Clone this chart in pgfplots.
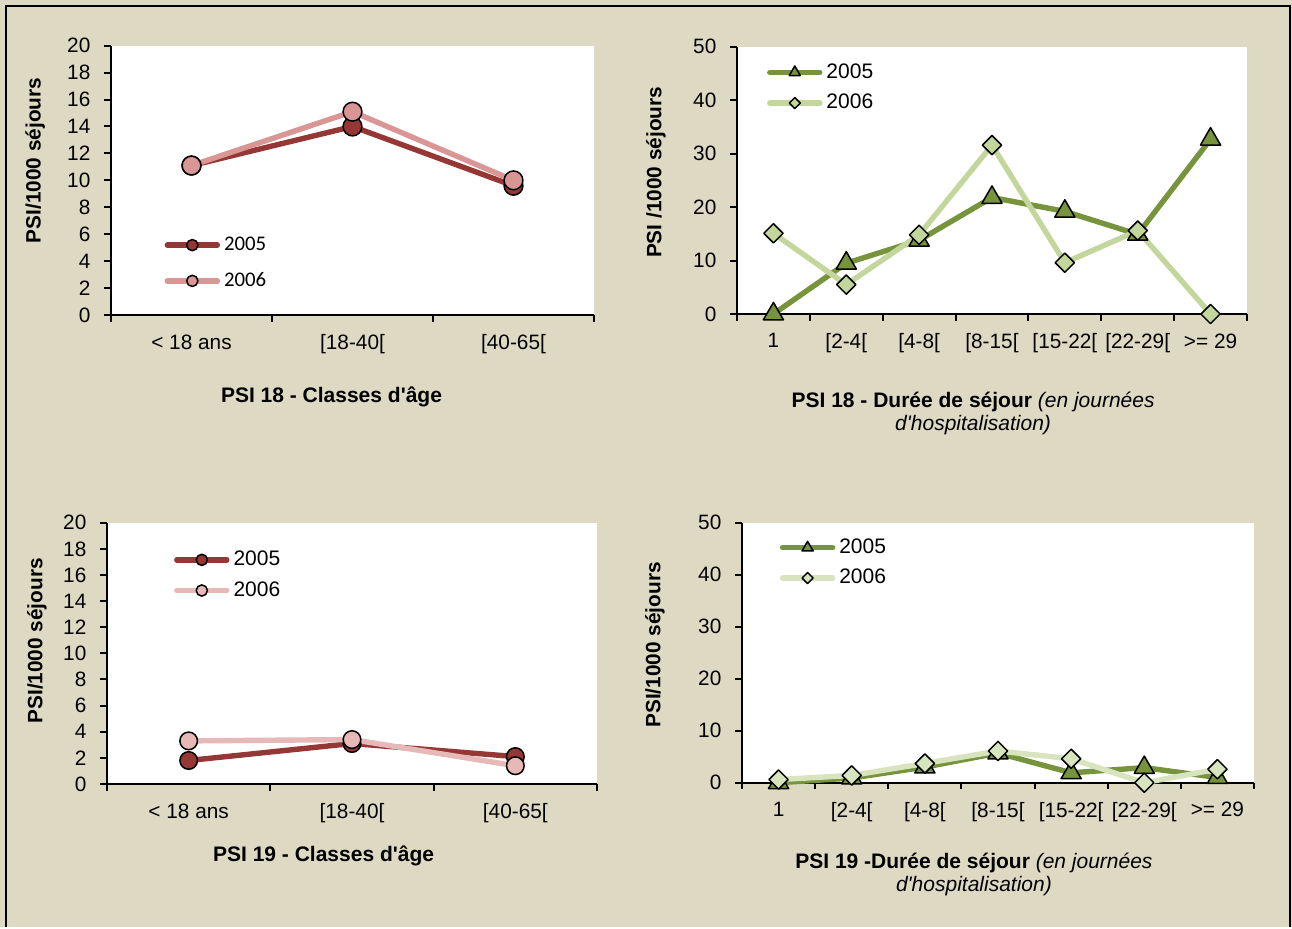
\documentclass[border=0pt]{standalone}
\usepackage{pgfplots}
\pgfplotsset{compat=1.18}
\usepackage{fontspec}
\setmainfont{Liberation Sans}
\newfontfamily\calib{Carlito}
\definecolor{bg}{HTML}{DDD9C3}
\definecolor{dred}{HTML}{953735}
\definecolor{pinkA}{HTML}{D99694}
\definecolor{pinkB}{HTML}{E6B9B8}
\definecolor{dgreen}{HTML}{77933C}
\definecolor{lgreenA}{HTML}{C3D69B}
\definecolor{lgreenB}{HTML}{D7E4BD}
\newcommand{\tfont}{\fontsize{10.4}{11.5}\selectfont}
\tikzset{
  lred/.style={line width=2.7pt, line cap=round, line join=round, mark=*},
  mk/.style={draw=black, line width=0.75pt, fill=#1},
}
\pgfplotsset{
  panel/.style={
    scale only axis, clip=false,
    axis lines*=left,
    axis line style={black, line width=1pt},
    axis background/.style={fill=white},
    tick align=outside,
    major tick length=3.3pt, minor tick length=3.3pt,
    every tick/.style={black, line width=1pt},
    ymin=0,
    /pgf/number format/assume math mode=true,
    tick label style={font=\tfont},
    yticklabel style={xshift=-3.5pt},
    xticklabel style={yshift=-3pt},
    major x tick style={draw=none},
    legend cell align=left,
    legend style={draw=none, fill=none, inner sep=0pt, outer sep=0pt, anchor=north west, row sep=6pt,
      nodes={inner xsep=2pt}},
    legend image code/.code={\draw[mark repeat=2,mark phase=2,##1] plot coordinates {(0pt,0pt) (12.5pt,0pt) (25pt,0pt)};},
    every axis y label/.style={rotate=90, anchor=center, font=\tfont\bfseries},
  },
  age/.style={panel, xmin=-0.5, xmax=2.5, xtick={0,1,2}, minor xtick={-0.5,0.5,1.5,2.5},
    xticklabels={{< 18 ans},{[18-40[},{[40-65[}}, ymax=20, ytick={0,2,...,20}},
  duree/.style={panel, xmin=-0.5, xmax=6.5, xtick={0,...,6}, minor xtick={-0.5,0.5,...,6.5},
    xticklabels={1,{[2-4[},{[4-8[},{[8-15[},{[15-22[},{[22-29[},{>= 29}}, ymax=50, ytick={0,10,...,50}},
}
\newcommand{\q}{\textquotesingle}
\begin{document}
\begin{tikzpicture}
\fill[bg] (0,0) rectangle (646pt,-463.5pt);
\draw[black, line width=1pt] (3pt,-463.5pt) -- (3pt,-3pt) -- (645.2pt,-3pt) -- (645.2pt,-463.5pt);
\useasboundingbox (0,0) rectangle (646pt,-463.5pt);

% ---------- Panel 1 ----------
\begin{axis}[age, at={(55.5pt,-157.5pt)}, anchor=south west, width=241.5pt, height=134.65pt,
  ylabel={PSI/1000 séjours}, ylabel style={at={(axis description cs:-0.157,0.574)}},
  legend style={at={(axis description cs:0.111,0.305)}, font=\calib\fontsize{10.4}{12}\selectfont, row sep=5.5pt}]
\addlegendimage{dred, lred, mark size=2.8pt, mark options={mk=dred}}
\addlegendentry{2005}
\addlegendimage{pinkA, lred, mark size=2.8pt, mark options={mk=pinkA}}
\addlegendentry{2006}
\addplot[dred, lred, mark size=4.7pt, mark options={mk=dred}, forget plot] coordinates {(0,11.1) (1,14.0) (2,9.6)};
\addplot[pinkA, lred, mark size=4.7pt, mark options={mk=pinkA}, forget plot] coordinates {(0,11.1) (1,15.1) (2,10.0)};
\node[font=\fontsize{10.5}{12}\selectfont\bfseries] at (axis description cs:0.4565,-0.3045) {PSI 18 - Classes d\q âge};
\end{axis}

% ---------- Panel 2 ----------
\begin{axis}[duree, at={(368.5pt,-157pt)}, anchor=south west, width=255pt, height=133.65pt,
  ylabel={PSI /1000 séjours}, ylabel style={at={(axis description cs:-0.159,0.53)}},
  legend style={at={(axis description cs:0.059,0.952)}, font=\fontsize{10.5}{12}\selectfont, row sep=2.5pt}]
\addlegendimage{dgreen, lred, mark=triangle*, mark size=3.2pt, mark options={mk=dgreen}}
\addlegendentry{2005}
\addlegendimage{lgreenA, lred, mark=square*, mark size=1.95pt, mark options={mk=lgreenA, rotate=45}}
\addlegendentry{2006}
\addplot[dgreen, lred, mark=triangle*, mark size=5.8pt, mark options={mk=dgreen}, forget plot]
  coordinates {(0,0) (1,9.5) (2,13.8) (3,21.8) (4,19.2) (5,14.9) (6,32.7)};
\addplot[lgreenA, lred, mark=square*, mark size=3.4pt, mark options={mk=lgreenA, rotate=45}, forget plot]
  coordinates {(0,15.1) (1,5.5) (2,14.8) (3,31.6) (4,9.6) (5,15.6) (6,0)};
\node[align=center, font=\fontsize{10.5}{11.5}\selectfont] at (axis description cs:0.463,-0.372)
  {\textbf{PSI 18 - Durée de séjour} \textit{(en journées}\\ \textit{d\q hospitalisation)}};
\end{axis}

% ---------- Panel 3 ----------
\begin{axis}[age, at={(53.5pt,-392pt)}, anchor=south west, width=245pt, height=130.65pt,
  ylabel={PSI/1000 séjours}, ylabel style={at={(axis description cs:-0.143,0.548)}},
  legend style={at={(axis description cs:0.137,0.907)}, font=\fontsize{10.5}{12}\selectfont, row sep=2.5pt}]
\addlegendimage{dred, lred, mark size=2.8pt, mark options={mk=dred}}
\addlegendentry{2005}
\addlegendimage{pinkB, lred, mark size=2.8pt, mark options={mk=pinkB}}
\addlegendentry{2006}
\addplot[dred, lred, mark size=4.4pt, mark options={mk=dred}, forget plot] coordinates {(0,1.8) (1,3.1) (2,2.1)};
\addplot[pinkB, lred, mark size=4.4pt, mark options={mk=pinkB}, forget plot] coordinates {(0,3.3) (1,3.4) (2,1.4)};
\node[font=\fontsize{10.5}{12}\selectfont\bfseries] at (axis description cs:0.442,-0.2755) {PSI 19 - Classes d\q âge};
\end{axis}

% ---------- Panel 4 ----------
\begin{axis}[duree, at={(371pt,-391.35pt)}, anchor=south west, width=256pt, height=130pt,
  ylabel={PSI/1000 séjours}, ylabel style={at={(axis description cs:-0.17,0.53)}},
  legend style={at={(axis description cs:0.074,0.953)}, font=\fontsize{10.5}{12}\selectfont, row sep=2.3pt}]
\addlegendimage{dgreen, lred, mark=triangle*, mark size=3.2pt, mark options={mk=dgreen}}
\addlegendentry{2005}
\addlegendimage{lgreenB, lred, mark=square*, mark size=1.95pt, mark options={mk=lgreenB, rotate=45}}
\addlegendentry{2006}
\addplot[dgreen, lred, mark=triangle*, mark size=5.8pt, mark options={mk=dgreen}, forget plot]
  coordinates {(0,0) (1,0.9) (2,3.0) (3,5.7) (4,1.9) (5,2.9) (6,1.0)};
\addplot[lgreenB, lred, mark=square*, mark size=3.4pt, mark options={mk=lgreenB, rotate=45}, forget plot]
  coordinates {(0,0.6) (1,1.4) (2,3.7) (3,6.1) (4,4.6) (5,0) (6,2.6)};
\node[align=center, font=\fontsize{10.5}{11.5}\selectfont] at (axis description cs:0.453,-0.351)
  {\textbf{PSI 19 -Durée de séjour} \textit{(en journées}\\ \textit{d\q hospitalisation)}};
\end{axis}
\end{tikzpicture}
\end{document}
